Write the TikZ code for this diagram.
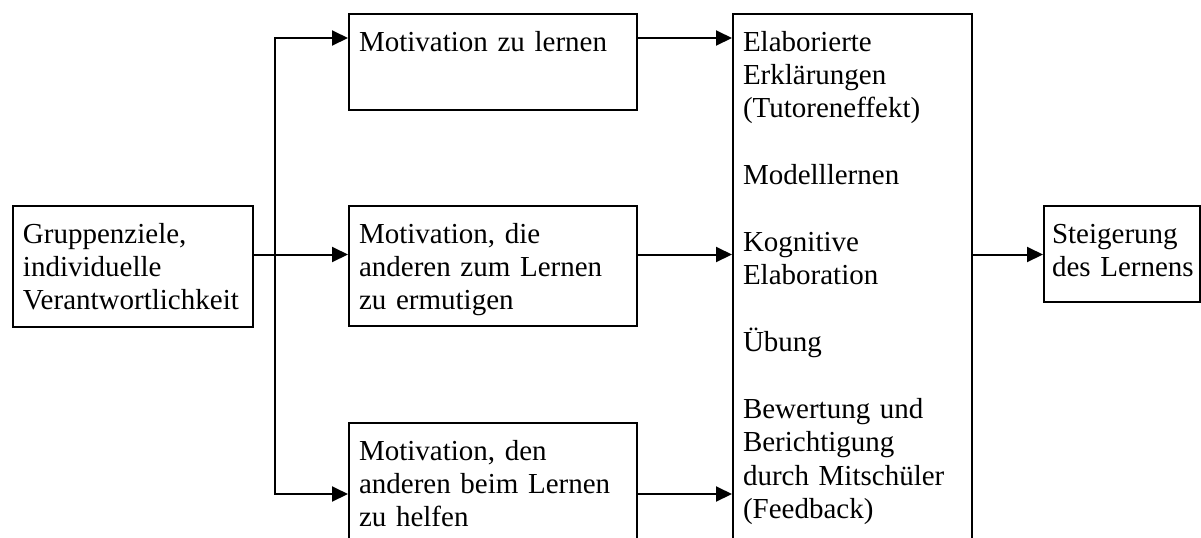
\documentclass[tikz,border=0pt]{standalone}
\usepackage{fontspec}
\setmainfont{Liberation Serif}
\usepackage{tikz}
\usetikzlibrary{calc}
\usetikzlibrary{arrows.meta}
\tikzset{
  flow_box/.style = {draw=black, line width=1pt, anchor=north west, align=left,
    inner xsep=5pt, inner ysep=0pt, text height=18.5pt,
    font=\fontsize{14.5pt}{16.7pt}\selectfont},   % text box, first line at top
  flow_arr/.style = {->, line width=1pt}          % connector
}

\begin{document}
\begin{tikzpicture}[x=0.5pt, y=-0.5pt, >={Triangle[length=8pt,width=7.5pt]}]
    \useasboundingbox (0,0) rectangle (1201,537);
    \clip (0,0) rectangle (1201,537);
    % boxes
    \node [flow_box, text width=110pt, text depth=42pt] (goal) at (12,205)
        {Gruppenziele,\\ individuelle\\ Verantwortlichkeit};
    \node [flow_box, text width=134pt, text depth=29.5pt] (mot_l) at (348,13)
        {Motivation zu lernen};
    \node [flow_box, text width=134pt, text depth=41.5pt] (mot_e) at (348,205)
        {Motivation, die\\ anderen zum Lernen\\ zu ermutigen};
    \node [flow_box, text width=134pt, text depth=57pt] (mot_h) at (348,422)
        {Motivation, den\\ anderen beim Lernen\\ zu helfen};
    \node [flow_box, text width=109.5pt, text depth=261.5pt] (mech) at (732,13)
        {Elaborierte\\ Erklärungen\\ (Tutoreneffekt)\\[16.7pt] Modelllernen\\[16.7pt]
         Kognitive\\ Elaboration\\[16.7pt] Übung\\[16.7pt]
         Bewertung und\\ Berichtigung\\ durch Mitschüler\\ (Feedback)};
    \node [flow_box, inner xsep=4pt, text width=70pt, text depth=29.5pt] (gain) at (1043,205)
        {Steigerung\\ \mbox{des Lernens}};
    % rows of the arrows
    \coordinate (row_a) at (0,38);
    \coordinate (row_b) at (0,254.5);
    \coordinate (row_c) at (0,494);
    \coordinate (fork) at (275,254.5);
    % connectors
    \draw [flow_arr] (goal.east |- row_b) -- (mot_e.west |- row_b);
    \draw [flow_arr] (fork) |- (mot_l.west |- row_a);
    \draw [flow_arr] (fork) |- (mot_h.west |- row_c);
    \draw [flow_arr] (mot_l.east |- row_a) -- (mech.west |- row_a);
    \draw [flow_arr] (mot_e.east |- row_b) -- (mech.west |- row_b);
    \draw [flow_arr] (mot_h.east |- row_c) -- (mech.west |- row_c);
    \draw [flow_arr] (mech.east |- row_b) -- (gain.west |- row_b);
\end{tikzpicture}
\end{document}
